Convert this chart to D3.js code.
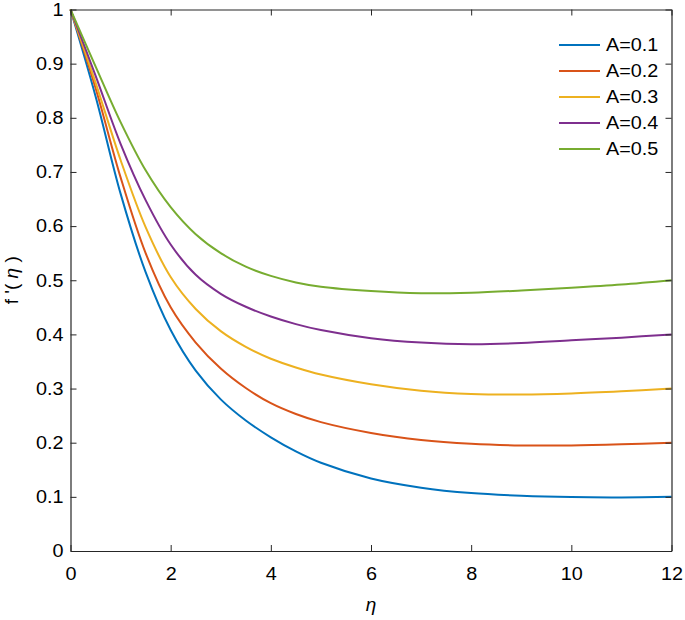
<!DOCTYPE html>
<html>
<head>
<meta charset="utf-8">
<script src="https://cdn.jsdelivr.net/npm/d3@7"></script>
<style>
  html, body { margin: 0; padding: 0; background: #fff; }
  svg { display: block; }
  text { font-family: "Liberation Sans", Arial, Helvetica, sans-serif; fill: #000; }
</style>
</head>
<body>
<svg id="chart" width="685" height="620"></svg>
<script>
// ---- data ----
const eta = [0, 0.5, 1, 1.5, 2, 2.5, 3, 3.5, 4, 4.5, 5, 6, 7, 8, 9, 10, 11, 12];
const seriesNames = ["A=0.1", "A=0.2", "A=0.3", "A=0.4", "A=0.5"];
const fA01 = [1, 0.84, 0.66, 0.515, 0.408, 0.333, 0.280, 0.241, 0.210, 0.184, 0.163, 0.134, 0.117, 0.107, 0.102, 0.0995, 0.099, 0.1];
const fA02 = [1, 0.855, 0.69, 0.55, 0.45, 0.385, 0.337, 0.301, 0.273, 0.253, 0.238, 0.218, 0.205, 0.198, 0.195, 0.195, 0.197, 0.2];
const fA03 = [1, 0.865, 0.722, 0.598, 0.506, 0.447, 0.406, 0.377, 0.355, 0.339, 0.326, 0.308, 0.296, 0.290, 0.289, 0.291, 0.295, 0.3];
const fA04 = [1, 0.878, 0.752, 0.648, 0.566, 0.510, 0.475, 0.451, 0.433, 0.419, 0.408, 0.393, 0.385, 0.382, 0.384, 0.389, 0.394, 0.4];
const fA05 = [1, 0.895, 0.792, 0.703, 0.635, 0.585, 0.550, 0.525, 0.508, 0.496, 0.488, 0.480, 0.476, 0.477, 0.481, 0.486, 0.492, 0.5];
const seriesValues = [fA01, fA02, fA03, fA04, fA05];
const colors = ["#0072BD", "#D95319", "#EDB120", "#7E2F8E", "#77AC30"];
const xTicks = [0, 2, 4, 6, 8, 10, 12];
const yTicks = [0, 0.1, 0.2, 0.3, 0.4, 0.5, 0.6, 0.7, 0.8, 0.9, 1];

// ---- layout ----
const L = 70.5, R = 671.5, T = 9.5, B = 551;
const svg = d3.select("#chart");
const x = d3.scaleLinear().domain([0, 12]).range([L, R]);
const y = d3.scaleLinear().domain([0, 1]).range([B, T]);
const axisColor = "#262626";
const tickLen = 6;
const fs = 18;

// curves
const line = d3.line().x(d => x(d[0])).y(d => y(d[1])).curve(d3.curveCatmullRom.alpha(0.5));
seriesValues.forEach((vals, i) => {
  svg.append("path")
    .datum(eta.map((e, j) => [e, vals[j]]))
    .attr("d", line)
    .attr("fill", "none")
    .attr("stroke", colors[i])
    .attr("stroke-width", 2);
});

// axes
const xb = svg.append("g").attr("transform", `translate(0,${B})`)
  .call(d3.axisBottom(x).tickValues(xTicks).tickSizeInner(-tickLen).tickSizeOuter(0).tickPadding(16).tickFormat(d3.format("d")));
const xt = svg.append("g").attr("transform", `translate(0,${T})`)
  .call(d3.axisTop(x).tickValues(xTicks).tickSizeInner(-tickLen).tickSizeOuter(0).tickFormat(""));
const yl = svg.append("g").attr("transform", `translate(${L},0)`)
  .call(d3.axisLeft(y).tickValues(yTicks).tickSizeInner(-tickLen).tickSizeOuter(0).tickPadding(7).tickFormat(d => d === 0 || d === 1 ? d3.format("d")(d) : d3.format(".1f")(d)));
const yr = svg.append("g").attr("transform", `translate(${R},0)`)
  .call(d3.axisRight(y).tickValues(yTicks).tickSizeInner(-tickLen).tickSizeOuter(0).tickFormat(""));

[xb, xt, yl, yr].forEach(g => {
  g.selectAll(".domain").attr("stroke", axisColor).attr("stroke-width", 1.2);
  g.selectAll(".tick line").attr("stroke", axisColor).attr("stroke-width", 1);
  g.selectAll(".tick text").attr("font-size", fs).attr("font-family", "Liberation Sans, Arial, sans-serif").attr("fill", "#000");
});

// axis labels
svg.append("text")
  .attr("x", (L + R) / 2).attr("y", 611)
  .attr("text-anchor", "middle")
  .attr("font-size", 19)
  .attr("font-style", "italic")
  .text("η");

const ylab = svg.append("text")
  .attr("transform", `translate(18,${(T + B) / 2}) rotate(-90)`)
  .attr("text-anchor", "middle")
  .attr("font-size", 19);
ylab.append("tspan").text("f '( ");
ylab.append("tspan").attr("font-style", "italic").text("η");
ylab.append("tspan").text(" )");

// legend
const lg = svg.append("g");
seriesNames.forEach((name, i) => {
  const yy = 45 + i * 26;
  lg.append("line").attr("x1", 559).attr("x2", 600).attr("y1", yy).attr("y2", yy)
    .attr("stroke", colors[i]).attr("stroke-width", 2);
  lg.append("text").attr("class", "stretch").attr("x", 606).attr("y", yy).attr("dy", "0.36em")
    .attr("font-size", fs).text(name);
});

// slight horizontal widening of tick and legend text to match reference glyph proportions
svg.selectAll(".tick text, text.stretch").each(function () {
  const len = this.getComputedTextLength();
  if (len > 0) d3.select(this).attr("textLength", len * 1.1).attr("lengthAdjust", "spacingAndGlyphs");
});
</script>
</body>
</html>
